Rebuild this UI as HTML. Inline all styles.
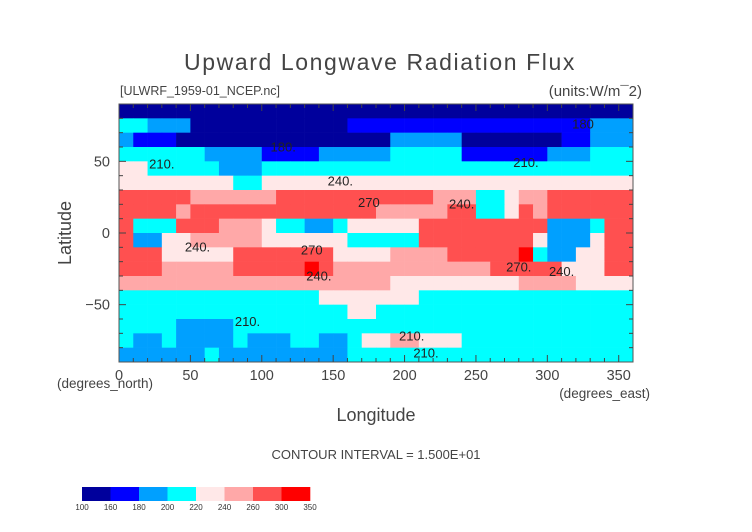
<!DOCTYPE html>
<html><head><meta charset="utf-8">
<style>
html,body{margin:0;padding:0;background:#fff;}
svg{display:block;font-family:"Liberation Sans",sans-serif;}
</style></head>
<body>
<svg id="chart" width="752" height="532" viewBox="0 0 752 532" xmlns="http://www.w3.org/2000/svg">
<text x="380" y="70" font-size="23" text-anchor="middle" fill="#444" letter-spacing="1.6">Upward Longwave Radiation Flux</text>
<text x="120" y="95" font-size="12.5" fill="#444">[ULWRF_1959-01_NCEP.nc]</text>
<text x="642" y="96" font-size="15" text-anchor="end" fill="#444">(units:W/m¯2)</text>
<g id="cells"></g>
<g id="labels"></g>
<rect x="119" y="104" width="514" height="258" fill="none" stroke="#555" stroke-width="1"/>
<g id="ticks"></g>
<text transform="translate(71,233) rotate(-90)" font-size="18" text-anchor="middle" fill="#444">Latitude</text>
<text x="105" y="388" font-size="13.5" text-anchor="middle" fill="#444">(degrees_north)</text>
<text x="376" y="421" font-size="18" text-anchor="middle" fill="#444">Longitude</text>
<text x="650" y="398" font-size="13.5" text-anchor="end" fill="#444">(degrees_east)</text>
<text x="376" y="459" font-size="13" text-anchor="middle" fill="#444">CONTOUR INTERVAL = 1.500E+01</text>
<g id="cbar"></g>
</svg>
<script>
const levelBounds = [100,160,180,200,220,240,260,300,350];
const levelColors = ["#00009c","#0000ff","#00a0ff","#00ffff","#ffe8e8","#ffa8a8","#ff5050","#ff0000"];
const lats = [85,75,65,55,45,35,25,15,5,-5,-15,-25,-35,-45,-55,-65,-75,-85];
const lons = [];
for (let i=0;i<36;i++) lons.push(5+10*i);
const fluxRows = [
"150 150 150 150 150 150 150 150 150 150 150 150 150 150 150 150 150 150 150 150 150 150 150 150 150 150 150 150 150 150 150 150 150 150 150 150",
"210 210 190 190 190 150 150 150 150 150 150 150 150 150 150 150 170 170 170 170 170 170 170 170 170 170 170 170 170 170 170 170 170 190 190 190",
"190 170 170 170 150 150 150 150 150 150 150 150 150 150 150 150 150 150 150 190 190 190 190 190 150 150 150 150 150 150 150 170 170 190 190 190",
"210 210 210 210 210 210 190 190 190 190 170 170 170 170 190 190 190 190 190 210 210 210 210 210 170 170 170 170 170 170 190 190 190 210 210 210",
"230 230 210 210 210 210 210 190 190 190 210 210 210 210 210 210 210 210 210 210 210 210 210 210 210 210 210 210 210 210 210 210 210 210 210 210",
"230 230 230 230 230 230 230 230 210 210 230 230 230 230 230 230 230 230 230 230 230 230 230 230 230 230 230 230 230 230 230 230 230 230 230 230",
"270 270 270 270 270 250 250 250 250 250 250 270 270 270 270 270 270 270 270 270 270 270 250 250 250 210 210 230 250 250 270 270 270 270 270 270",
"270 270 270 270 250 270 270 270 270 270 270 270 270 270 270 270 270 270 250 250 250 250 250 270 270 210 210 230 270 250 270 270 270 270 270 270",
"270 210 210 210 270 270 270 250 250 250 230 210 210 190 190 210 230 230 230 230 230 270 270 270 270 270 270 270 270 270 190 190 190 210 270 270",
"270 190 190 230 230 250 250 250 250 250 230 230 230 230 230 230 210 210 210 210 210 270 270 270 270 270 270 270 270 230 190 190 190 230 270 270",
"270 270 270 230 230 230 230 230 270 270 270 270 270 270 270 230 230 230 230 250 250 250 250 270 270 270 270 270 310 210 190 190 230 230 270 270",
"270 270 270 250 250 250 250 250 270 270 270 270 270 310 270 250 250 250 250 250 250 250 250 250 250 250 270 270 270 270 270 230 230 230 270 270",
"250 250 250 250 250 250 250 250 250 250 250 250 250 250 250 250 250 250 250 230 230 230 230 230 230 230 230 230 250 250 250 250 230 230 230 230",
"210 210 210 210 210 210 210 210 210 210 210 210 210 210 230 230 230 230 230 230 230 210 210 210 210 210 210 210 210 210 210 210 210 210 210 210",
"210 210 210 210 210 210 210 210 210 210 210 210 210 210 210 210 230 230 210 210 210 210 210 210 210 210 210 210 210 210 210 210 210 210 210 210",
"210 210 210 210 190 190 190 190 210 210 210 210 210 210 210 210 210 210 210 210 210 210 210 210 210 210 210 210 210 210 210 210 210 210 210 210",
"210 190 190 210 190 190 190 190 210 190 190 190 210 210 190 190 210 230 230 250 250 230 230 230 210 210 210 210 210 210 210 210 210 210 210 210",
"190 190 190 190 190 190 210 190 190 190 190 190 190 190 190 190 210 210 210 210 210 210 210 210 210 210 210 210 210 210 210 210 210 210 210 210"
];
const flux = fluxRows.map(r => r.split(" ").map(Number));
const xTicks = [0,50,100,150,200,250,300,350];
const yTicks = [-50,0,50];
const labelTexts = ["210.","180.","240.","270","240.","240.","270","240.","270.","240.","210.","210.","210.","180","210."];
const labelLon = [30,115,155,175,240,55,135,140,280,310,90,205,215,325,285];
const labelLat = [45,57,33,18,17,-13,-15,-33,-27,-30,-65,-75,-87,73,46];

const X0=119, X1=633, Y0=104, Y1=362;
const xs = lon => X0 + (lon/360)*(X1-X0);
const ys = lat => Y0 + ((90-lat)/180)*(Y1-Y0);
function colorFor(v){
  for(let i=0;i<levelColors.length;i++){ if(v<levelBounds[i+1]) return levelColors[i]; }
  return levelColors[levelColors.length-1];
}
const NS="http://www.w3.org/2000/svg";
const cells=document.getElementById('cells');
lats.forEach((lat,ri)=>{
  lons.forEach((lon,ci)=>{
    const r=document.createElementNS(NS,'rect');
    const x=xs(lon-5), y=ys(lat+5);
    r.setAttribute('x',x.toFixed(2));
    r.setAttribute('y',y.toFixed(2));
    r.setAttribute('width',(xs(lon+5)-x+0.3).toFixed(2));
    r.setAttribute('height',(ys(lat-5)-y+0.3).toFixed(2));
    r.setAttribute('fill',colorFor(flux[ri][ci]));
    
    
    cells.appendChild(r);
  });
});
const lab=document.getElementById('labels');
labelTexts.forEach((t,i)=>{
  const e=document.createElementNS(NS,'text');
  e.setAttribute('x',xs(labelLon[i]));
  e.setAttribute('y',ys(labelLat[i]));
  e.setAttribute('font-size','13');
  e.setAttribute('fill','#222');
  e.setAttribute('text-anchor','middle');
  e.textContent=t;
  
  
  lab.appendChild(e);
});
const tk=document.getElementById('ticks');
function line(x1,y1,x2,y2){
  const l=document.createElementNS(NS,'line');
  l.setAttribute('x1',x1);l.setAttribute('y1',y1);l.setAttribute('x2',x2);l.setAttribute('y2',y2);
  l.setAttribute('stroke','#444');l.setAttribute('stroke-width','1');
  
  
  tk.appendChild(l);
}
for(let lon=10;lon<360;lon+=10){const len=lon%50===0?7:4;line(xs(lon),Y1,xs(lon),Y1-len);line(xs(lon),Y0,xs(lon),Y0+len);}
for(let lat=-80;lat<90;lat+=10){const len=lat%50===0?7:4;line(X0,ys(lat),X0+len,ys(lat));line(X1,ys(lat),X1-len,ys(lat));}
xTicks.forEach(v=>{
  const e=document.createElementNS(NS,'text');
  e.setAttribute('x',xs(v));e.setAttribute('y',380);
  e.setAttribute('font-size','14.5');e.setAttribute('text-anchor','middle');e.setAttribute('fill','#444');
  e.textContent=String(v);
  
  
  tk.appendChild(e);
});
yTicks.forEach(v=>{
  const e=document.createElementNS(NS,'text');
  e.setAttribute('x',110);e.setAttribute('y',ys(v)+5);
  e.setAttribute('font-size','14.5');e.setAttribute('text-anchor','end');e.setAttribute('fill','#444');
  e.textContent=v<0?'\u2212'+Math.abs(v):String(v);
  
  
  tk.appendChild(e);
});
const cb=document.getElementById('cbar');
const cbX=82, cbW=28.5;
levelColors.forEach((c,i)=>{
  const r=document.createElementNS(NS,'rect');
  r.setAttribute('x',cbX+i*cbW);r.setAttribute('y',487);r.setAttribute('width',cbW+0.3);r.setAttribute('height',14);
  r.setAttribute('fill',c);
  
  
  cb.appendChild(r);
});
levelBounds.forEach((b,i)=>{
  const e=document.createElementNS(NS,'text');
  e.setAttribute('x',cbX+i*cbW);e.setAttribute('y',510);
  e.setAttribute('font-size','8');e.setAttribute('text-anchor','middle');e.setAttribute('fill','#333');
  e.textContent=String(b);
  
  
  cb.appendChild(e);
});
</script>
</body></html>
